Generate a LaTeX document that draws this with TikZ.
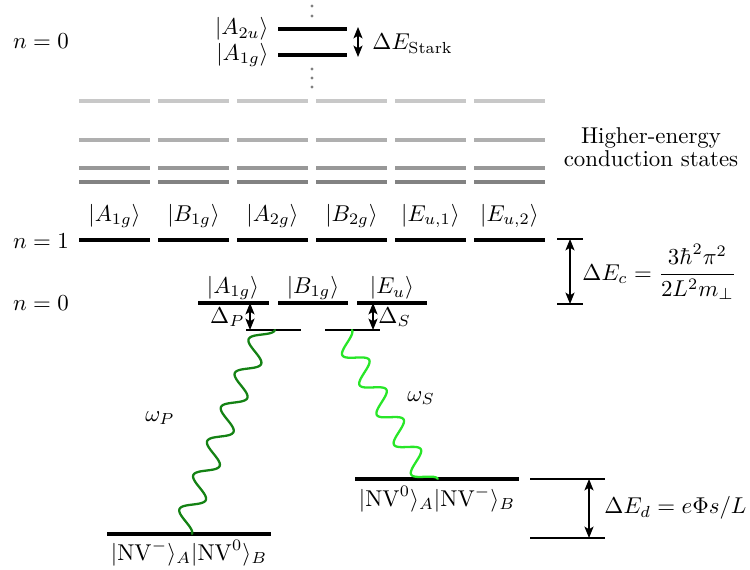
\documentclass[tikz,border=0pt]{standalone}
\usepackage{amsmath}
\usetikzlibrary{arrows.meta}
\definecolor{dgreen}{RGB}{20,130,20}
\definecolor{lgreen}{RGB}{40,230,40}
\definecolor{gA}{RGB}{200,200,200}
\definecolor{gB}{RGB}{175,175,175}
\definecolor{gC}{RGB}{152,152,152}
\definecolor{gD}{RGB}{130,130,130}
\begin{document}
\begin{tikzpicture}[x=0.437pt,y=-0.437pt,
  level/.style={line width=1.7pt},
  glevel/.style={line width=1.5pt},
  vlevel/.style={line width=1pt},
  reflevel/.style={line width=0.8pt},
  dbl/.style={{Stealth[length=5pt,width=4pt,inset=1.2pt]}-{Stealth[length=5pt,width=4pt,inset=1.2pt]}, line width=0.5pt},
  photon/.style={line width=1pt, line cap=round},
  lbl/.style={inner sep=0pt}]
\useasboundingbox (0,0) rectangle (750,569);

% ---- top n=0 Stark pair
\node[lbl] (n0top) at (41,41) {$n=0$};
\coordinate (a2uL) at (278,29); \coordinate (a2uR) at (347,29);
\coordinate (a1tL) at (278,55); \coordinate (a1tR) at (347,55);
\draw[level] (a2uL) -- (a2uR);
\draw[level] (a1tL) -- (a1tR);
\node[lbl, anchor=east] (a2u) at (269,29) {$|A_{2u}\rangle$};
\node[lbl, anchor=east] (a1gt) at (269,55) {$|A_{1g}\rangle$};
\foreach \yy [count=\i] in {6,16,69,78,87} \fill[gray] (312,\yy) circle (1.6);
\coordinate (sT) at (358,27); \coordinate (sB) at (358,57);
\draw[dbl] (sT) -- (sB);
\node[lbl, anchor=west] (stark) at (372,44) {$\Delta E_{\text{Stark}}$};

% ---- higher-energy conduction states
\foreach \xx in {79,158,237,316,395,474} {
  \draw[glevel, gA] (\xx,101) -- ++(71,0);
  \draw[glevel, gB] (\xx,140) -- ++(71,0);
  \draw[glevel, gC] (\xx,168) -- ++(71,0);
  \draw[glevel, gD] (\xx,182) -- ++(71,0);
}
\node[lbl, align=center] (hec) at (651,147) {Higher-energy\\[-2pt]conduction states};

% ---- n=1 manifold
\node[lbl] (n1) at (41,241) {$n=1$};
\foreach \xx/\lab [count=\i] in {79/{A_{1g}},158/{B_{1g}},237/{A_{2g}},316/{B_{2g}},395/{E_{u,1}},474/{E_{u,2}}} {
  \draw[level] (\xx,240) -- ++(71,0);
  \node[lbl] (m\i) at (\xx+35.5,216) {$|\lab\rangle$};
}

% ---- Delta E_c
\coordinate (cT) at (570,239); \coordinate (cB) at (570,304);
\draw[reflevel] (557,239) -- (583,239);
\draw[reflevel] (557,304) -- (583,304);
\draw[dbl] (cT) -- (cB);
\node[lbl, anchor=west] (dEc) at (582,272) {$\Delta E_c = \dfrac{3\hbar^2\pi^2}{2L^2m_\perp}$};

% ---- n=0 manifold
\node[lbl] (n0) at (41,303) {$n=0$};
\draw[level] (198,303) -- (269,303);
\draw[level] (278,303) -- (348,303);
\draw[level] (357,303) -- (427,303);
\node[lbl] (a1g) at (233,288) {$|A_{1g}\rangle$};
\node[lbl] (b1g) at (313,288) {$|B_{1g}\rangle$};
\node[lbl] (eu) at (392,288) {$|E_u\rangle$};
\coordinate (vPL) at (246,330); \coordinate (vPR) at (301,330);
\coordinate (vSL) at (325,330); \coordinate (vSR) at (380,330);
\draw[vlevel] (vPL) -- (vPR);
\draw[vlevel] (vSL) -- (vSR);
\coordinate (dPT) at (250,303); \coordinate (dPB) at (250,330);
\coordinate (dST) at (373,303); \coordinate (dSB) at (373,330);
\draw[dbl] (dPT) -- (dPB);
\draw[dbl] (dST) -- (dSB);
\node[lbl, anchor=east] (DP) at (245,317) {$\Delta_P$};
\node[lbl, anchor=west] (DS) at (378,317) {$\Delta_S$};

% ---- ground states
\draw[level] (107,534) -- (271,534);
\node[lbl] (gL) at (189,553) {$|\mathrm{NV}^-\rangle_A|\mathrm{NV}^0\rangle_B$};
\draw[level] (355,479) -- (519,479);
\node[lbl] (gR) at (437,499) {$|\mathrm{NV}^0\rangle_A|\mathrm{NV}^-\rangle_B$};
\coordinate (dT) at (589,479); \coordinate (dB) at (589,538);
\draw[reflevel] (530,479) -- (605,479);
\draw[reflevel] (530,538) -- (605,538);
\draw[dbl] (dT) -- (dB);
\node[lbl, anchor=west] (dEd) at (604,508) {$\Delta E_d = e\Phi s/L$};

% ---- photons (sine waves from start S to end E)
% omega_P: S=(275,330), E=(192,534), right normal (0.926,0.377)
\draw[photon, dgreen] plot[domain=0:1, samples=241, smooth, variable=\t]
  ({275 - 83*\t + 10.5*(cos(2160*\t)-1)*0.926}, {330 + 204*\t + 10.5*(cos(2160*\t)-1)*0.377});
% omega_S: S=(352,330), E=(438,479), right normal (0.866,-0.5)
\draw[photon, lgreen] plot[domain=0:1, samples=201, smooth, variable=\t]
  ({352 + 86*\t + 10.5*(cos(1800*\t)-1)*0.866}, {330 + 149*\t - 10.5*(cos(1800*\t)-1)*0.5});
\node[lbl] (wP) at (160,418) {$\omega_P$};
\node[lbl] (wS) at (421,398) {$\omega_S$};
\end{tikzpicture}
\end{document}
